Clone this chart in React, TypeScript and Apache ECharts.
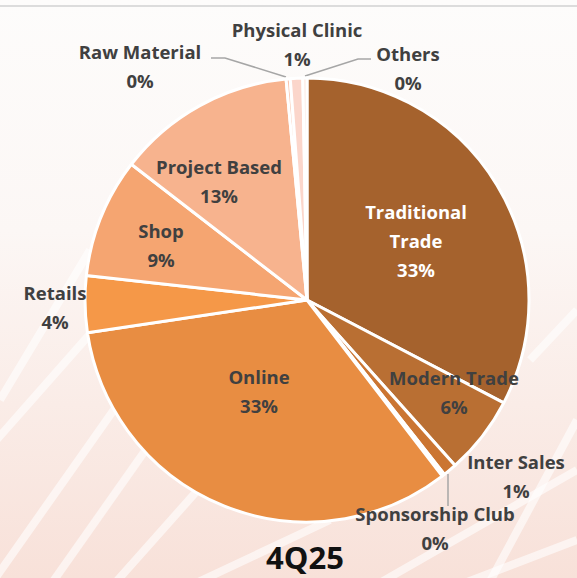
import React, { useEffect, useRef } from "react";
import * as echarts from "echarts";

const categories = [
  "Traditional Trade",
  "Modern Trade",
  "Inter Sales",
  "Sponsorship Club",
  "Online",
  "Retails",
  "Shop",
  "Project Based",
  "Raw Material",
  "Physical Clinic",
  "Others",
];
const values = [32.6, 5.7, 1.0, 0.2, 33.0, 4.1, 8.7, 13.0, 0.3, 0.9, 0.3];
const periodLabel = "4Q25";

const sliceColors = [
  "#A5622D",
  "#B96F33",
  "#CB7532",
  "#D8813C",
  "#E88D42",
  "#F59848",
  "#F5A571",
  "#F7B38E",
  "#F9C5AE",
  "#FBD6CB",
  "#FDE6DE",
];

const labelNames: Record<string, string> = {
  "Traditional Trade": "Traditional\nTrade",
};
const labelPos: Record<string, [number, number]> = {
  "Traditional Trade": [416, 240],
  "Modern Trade": [454, 392],
  "Inter Sales": [516, 476],
  "Sponsorship Club": [435, 528],
  Online: [259, 391],
  Retails: [55, 307],
  Shop: [161, 245],
  "Project Based": [219, 181],
  "Raw Material": [140, 66],
  "Physical Clinic": [297, 44],
  Others: [408, 68],
};
const leaderLines: Record<string, number[][]> = {
  "Raw Material": [
    [286, 77],
    [225, 58],
    [211, 58],
  ],
  Others: [
    [305, 76],
    [358, 59],
    [371, 59],
  ],
  "Sponsorship Club": [
    [448, 474],
    [448, 490],
    [448, 506],
  ],
};

export default function App() {
  const ref = useRef<HTMLDivElement>(null);
  useEffect(() => {
    document.body.style.margin = "0";
    if (!ref.current) return;
    const chart = echarts.init(ref.current, null, { renderer: "svg" });

    const stripes: any[] = [];
    const stripeDefs = [
      [-20, 600, 170, 330],
      [40, 600, 230, 330],
      [100, 600, 260, 420],
      [-30, 470, 120, 300],
      [0, 400, 90, 250],
      [160, 600, 330, 520],
      [350, 600, 577, 470],
      [420, 600, 577, 540],
      [530, 360, 577, 310],
      [480, 600, 577, 420],
    ];
    stripeDefs.forEach((s) => {
      stripes.push({
        type: "line",
        silent: true,
        z: -9,
        shape: { x1: s[0], y1: s[1], x2: s[2], y2: s[3] },
        style: { stroke: "rgba(255,255,255,0.6)", lineWidth: 8 },
      });
    });

    chart.setOption({
      animation: false,
      backgroundColor: "#fdfbfa",
      graphic: [
        {
          type: "rect",
          silent: true,
          z: -10,
          shape: { x: 0, y: 0, width: 577, height: 578 },
          style: {
            fill: {
              type: "linear",
              x: 0,
              y: 0,
              x2: 0,
              y2: 1,
              colorStops: [
                { offset: 0, color: "#fdfcfb" },
                { offset: 0.4, color: "#fcf7f5" },
                { offset: 1, color: "#f8e1d9" },
              ],
            },
          },
        },
        ...stripes,
        {
          type: "line",
          silent: true,
          z: -8,
          shape: { x1: 0, y1: 6, x2: 577, y2: 6 },
          style: { stroke: "#dcdcdc", lineWidth: 2 },
        },
      ],
      title: {
        text: periodLabel,
        left: 305,
        top: 540,
        padding: 0,
        textAlign: "center",
        textStyle: {
          fontFamily: "Open Sans",
          fontWeight: "bold",
          fontSize: 31,
          lineHeight: 34,
          color: "#111111",
        },
      },
      series: [
        {
          type: "pie",
          center: [307, 300],
          radius: 222,
          startAngle: 90,
          clockwise: true,
          avoidLabelOverlap: false,
          itemStyle: { borderColor: "#ffffff", borderWidth: 3 },
          label: {
            show: true,
            position: "inside",
            fontFamily: "Open Sans",
            fontWeight: "bold",
            fontSize: 18.5,
            lineHeight: 29,
            color: "#404040",
            align: "center",
            formatter: (p: any) =>
              (labelNames[p.name] || p.name) + "\n" + Math.round(p.percent) + "%",
          },
          labelLine: { show: false },
          labelLayout: (params: any) => {
            const name = categories[params.dataIndex];
            const pos = labelPos[name];
            const out: any = {
              x: pos[0],
              y: pos[1],
              align: "center",
              verticalAlign: "middle",
            };
            if (leaderLines[name]) out.labelLinePoints = leaderLines[name];
            return out;
          },
          data: categories.map((name, i) => {
            const item: any = {
              name,
              value: values[i],
              itemStyle: { color: sliceColors[i] },
            };
            if (name === "Traditional Trade") {
              item.label = { color: "#ffffff" };
            }
            if (leaderLines[name]) {
              item.label = { position: "outside" };
              item.labelLine = {
                show: true,
                length: 10,
                length2: 10,
                lineStyle: { color: "#a6a6a6", width: 1.5 },
              };
            }
            return item;
          }),
        },
      ],
    });
    return () => chart.dispose();
  }, []);
  return <div ref={ref} style={{ width: 577, height: 578 }} />;
}
